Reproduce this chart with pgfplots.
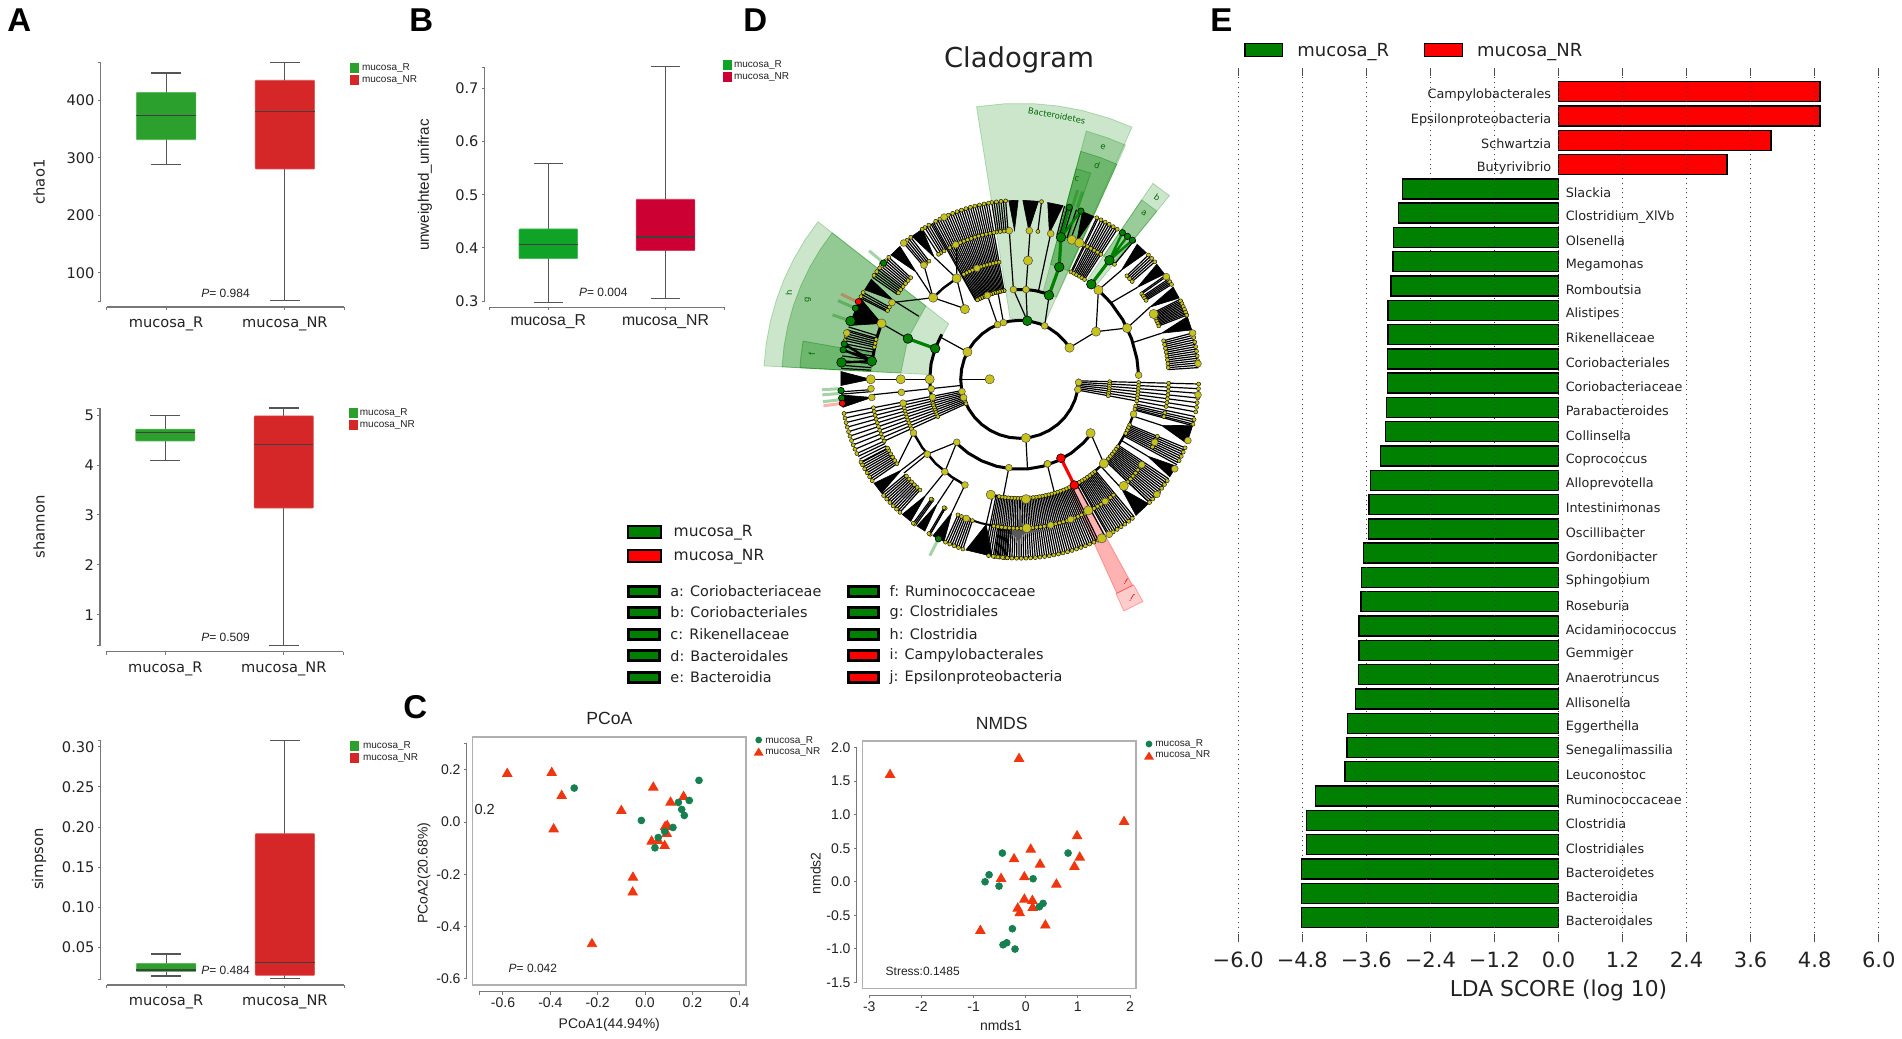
\documentclass[border=0pt]{standalone}
\usepackage{fontspec}
\usepackage{pgfplots}
\usepackage{pgfplotstable}
\pgfplotsset{compat=1.18}
\setmainfont{DejaVu Sans}
\newfontfamily\lib{Liberation Sans}
\newcommand\fs[1]{\fontsize{#1}{#1}\selectfont}

\definecolor{boxgreen}{HTML}{2CA02C}
\definecolor{boxred}{HTML}{D62728}
\definecolor{bgreen}{HTML}{0FA427}
\definecolor{bred}{HTML}{CC0033}
\definecolor{spine}{HTML}{777777}
\definecolor{wline}{HTML}{555555}
\definecolor{txt}{HTML}{222222}
\definecolor{frameg}{HTML}{B0B0B0}
\definecolor{ptg}{HTML}{168050}
\definecolor{ptr}{HTML}{F0360F}
\definecolor{leg}{HTML}{008000}
\definecolor{nody}{HTML}{C8C31C}

\tikzset{pxs/.style={x=.5pt,y=-.5pt}}
\pgfplotsset{
 panel/.style={scale only axis,anchor=north west,clip=false,
  axis lines*=left,axis line style={spine,-,line width=.6pt},
  tick align=outside,major tick length=1.4pt,tick style={spine,line width=.5pt},
  /pgf/number format/assume math mode=true,
  ticklabel style={font=\fs{7.3},text=txt,inner sep=1.5pt}},
 boxaxis/.style={panel,xmin=.5,xmax=2.5,xtick={.5,1,2,2.5},xticklabels={,mucosa\_R,mucosa\_NR,},
  axis x line shift=3pt,axis y line shift=3pt,
  xticklabel style={yshift=-2pt}},
 scat/.style={panel,axis x line shift=6.5pt,axis y line shift=6.3pt,
  ticklabel style={font=\lib\fs{7}}},
 rmark/.style={only marks,mark=*,mark size=1.7pt,mark options={fill=ptg,draw=none},color=ptg},
 nrmark/.style={only marks,mark=triangle*,mark size=2.7pt,mark options={fill=ptr,draw=none},color=ptr},
}
% one box of a box plot: position, low, q1, median, q3, high, colour
\newcommand\boxp[7]{%
 \pgfmathsetmacro\bl{#1-.25}\pgfmathsetmacro\br{#1+.25}%
 \pgfmathsetmacro\cl{#1-.125}\pgfmathsetmacro\cr{#1+.125}%
 \addplot[wline,line width=.55pt] coordinates {(#1,#2)(#1,#6)};
 \addplot[wline,line width=.55pt] coordinates {(\cl,#2)(\cr,#2)};
 \addplot[wline,line width=.55pt] coordinates {(\cl,#6)(\cr,#6)};
 \addplot[draw=#7!80!white,fill=#7,line width=.3pt,rounded corners=.4pt] coordinates {(\bl,#3)(\br,#3)(\br,#5)(\bl,#5)} --cycle;
 \addplot[black!75,line width=.6pt] coordinates {(\bl,#4)(\br,#4)};}
\newcommand\smallleg[5]{% x, y first swatch, text x, colours
 \fill[#4] (#1,#2) rectangle ++(9,10);
 \fill[#5] (#1,#2+12) rectangle ++(9,10);
 \node[anchor=west,inner sep=0,font=\lib\fs{5},text=txt] at (#3,#2+5) {mucosa\_R};
 \node[anchor=west,inner sep=0,font=\lib\fs{5},text=txt] at (#3,#2+17) {mucosa\_NR};}
\newcommand\pval[3]{\node[anchor=west,inner sep=0,font=\lib\fs{6},text=txt] at (#1,#2) {\textit{P}= #3};}
\newcommand\letter[3]{\node[anchor=west,inner sep=0,font=\lib\bfseries\fs{16.5}] at (#1,#2) {#3};}

% cladogram helpers, angles in degrees and radii in pixels
\tikzset{spoke/.style={black,line width=.6pt,mark=*,mark size=1pt,
  mark options={fill=nody,draw=black,line width=.2pt}},
  bare/.style={black,line width=.6pt}}
\newcommand\spokes[2]{\foreach \a in {#2}{\addplot[spoke] coordinates {(\a,#1)(\a,179)};}}
\newcommand\spokesm[2]{\foreach \a in {#2}{\addplot[spoke] coordinates {(\a,#1)(\a,149)(\a,179)};}}
\newcommand\spokesl[2]{\foreach \a in {#2}{\addplot[spoke] coordinates {(\a,#1)(\a,90)(\a,119)(\a,149)(\a,179)};}}
\newcommand\spokesx[2]{\foreach \a in {#2}{\addplot[bare] coordinates {(\a,#1)(\a,179)};}}
\newcommand\wg[3]{\addplot[fill=black,draw=black,line width=.3pt] coordinates {(#1,149)(#2,179)(#3,179)} --cycle;}

\pgfplotstableread{
v i name
4.90 34 Campylobacterales
4.90 33 Epsilonproteobacteria
3.98 32 Schwartzia
3.16 31 Butyrivibrio
}\lefse
\pgfplotstableread{
v i name
-2.92 30 Slackia
-3.00 29 Clostridium\_XlVb
-3.09 28 Olsenella
-3.10 27 Megamonas
-3.14 26 Romboutsia
-3.19 25 Alistipes
-3.19 24 Rikenellaceae
-3.20 23 Coriobacteriales
-3.20 22 Coriobacteriaceae
-3.22 21 Parabacteroides
-3.24 20 Collinsella
-3.33 19 Coprococcus
-3.52 18 Alloprevotella
-3.55 17 Intestinimonas
-3.56 16 Oscillibacter
-3.65 15 Gordonibacter
-3.69 14 Sphingobium
-3.70 13 Roseburia
-3.74 12 Acidaminococcus
-3.74 11 Gemmiger
-3.75 10 Anaerotruncus
-3.80 9 Allisonella
-3.95 8 Eggerthella
-3.96 7 Senegalimassilia
-4.00 6 Leuconostoc
-4.55 5 Ruminococcaceae
-4.72 4 Clostridia
-4.72 3 Clostridiales
-4.81 2 Bacteroidetes
-4.81 1 Bacteroidia
-4.81 0 Bacteroidales
}\lefsg

\begin{document}
\begin{tikzpicture}
\path[use as bounding box] (0,0) rectangle (951pt,-519.5pt);

\begin{scope}[pxs]
\letter{7}{20}{A}\letter{409}{20}{B}\letter{403}{707}{C}\letter{743}{20}{D}\letter{1210}{20}{E}
\node[rotate=90,font=\fs{7.4},text=txt] at (39,182) {chao1};
\pval{201}{293}{0.984}
\smallleg{350}{63}{361.7}{boxgreen}{boxred}
\node[rotate=90,font=\fs{7.4},text=txt] at (39,527) {shannon};
\pval{201}{637.3}{0.509}
\smallleg{349}{408}{359.5}{boxgreen}{boxred}
\node[rotate=90,font=\fs{7.4},text=txt] at (39,859) {simpson};
\pval{201}{970.7}{0.484}
\smallleg{350}{741}{362.7}{boxgreen}{boxred}
\node[rotate=90,font=\lib\fs{7.6},text=txt] at (425,185) {unweighted\_unifrac};
\pval{578.7}{292.7}{0.004}
\smallleg{723.3}{60}{733.7}{bgreen}{bred}
\draw[frameg,line width=.8pt] (472.3,736.7) rectangle (745.7,984.7);
\draw[frameg,line width=.8pt] (862.3,741) rectangle (1136,988.3);
\end{scope}

% A: chao1
\begin{axis}[boxaxis,at={(106.7*.5pt,-62.7*.5pt)},width=118.8pt,height=119.15pt,
 ymin=50.8,ymax=465.4,ytick={50.8,100,200,300,400,465.4},yticklabels={,100,200,300,400,}]
\boxp{1}{288}{331.4}{373.2}{413.9}{447.5}{boxgreen}
\boxp{2}{51}{280.5}{380.2}{434.8}{465.4}{boxred}
\end{axis}

% A: shannon
\begin{axis}[boxaxis,at={(106*.5pt,-408.3*.5pt)},width=118.5pt,height=118.7pt,
 ymin=.378,ymax=5.14,ytick={.378,1,2,3,4,5,5.14},yticklabels={,1,2,3,4,5,}]
\boxp{1}{4.10}{4.485}{4.65}{4.72}{4.987}{boxgreen}
\boxp{2}{.378}{3.14}{4.418}{4.987}{5.147}{boxred}
\end{axis}

% A: simpson
\begin{axis}[boxaxis,at={(106.7*.5pt,-740.7*.5pt)},width=118.8pt,height=119.15pt,
 ymin=.011,ymax=.3075,ytick={.011,.05,.1,.15,.2,.25,.3,.3075},
 yticklabels={,0.05,0.10,0.15,0.20,0.25,0.30,}]
\boxp{1}{.0148}{.0201}{.0222}{.0305}{.0421}{boxgreen}
\boxp{2}{.0114}{.0156}{.0313}{.1918}{.3075}{boxred}
\end{axis}

% B
\begin{axis}[boxaxis,at={(489.7*.5pt,-67.3*.5pt)},width=117.2pt,height=117.2pt,
 ymin=.2987,ymax=.74,ytick={.2987,.3,.4,.5,.6,.7,.74},yticklabels={,0.3,0.4,0.5,0.6,0.7,},
 axis x line shift=2.8pt,axis y line shift=2.5pt,
 xticklabel style={font=\lib\fs{7.9},yshift=1.5pt}]
\boxp{1}{.298}{.3797}{.4067}{.4356}{.5587}{bgreen}
\boxp{2}{.305}{.3948}{.4206}{.4915}{.7408}{bred}
\end{axis}

% C: PCoA
\begin{axis}[scat,at={(479.3*.5pt,-743.3*.5pt)},width=130.2pt,height=117.7pt,
 xmin=-.7,xmax=.4,ymin=-.6,ymax=.302,
 xtick={-.7,-.6,-.4,-.2,0,.2,.4},xticklabels={,-0.6,-0.4,-0.2,0.0,0.2,0.4},
 ytick={-.6,-.4,-.2,0,.2,.302},yticklabels={-0.6,-0.4,-0.2,0.0,0.2,}]
\addplot[nrmark] coordinates {(-.582,.1855)(-.394,.189)(-.352,.101)(-.386,-.027)(-.1,.0435)(.035,.133)
 (.108,.0755)(.163,.097)(.085,-.018)(.094,-.014)(.092,-.045)(.028,-.074)(.056,-.072)(.083,-.091)
 (-.051,-.212)(-.052,-.269)(-.224,-.467)};
\addplot[rmark] coordinates {(-.299,.1305)(.228,.16)(.187,.083)(.141,.0755)(.155,.0486)(.166,.0256)
 (-.0155,.0064)(.118,-.0205)(.083,-.0358)(.056,-.0589)(.042,-.0985)};
\end{axis}

% C: NMDS
\begin{axis}[scat,at={(869.3*.5pt,-747.7*.5pt)},width=130.35pt,height=117.3pt,
 xmin=-3,xmax=2,ymin=-1.5,ymax=2,
 xtick={-3,-2,-1,0,1,2},xticklabels={-3,-2,-1,0,1,2},
 ytick={-1.5,-1,-.5,0,.5,1,1.5,2},yticklabels={-1.5,-1.0,-0.5,0.0,0.5,1.0,1.5,2.0}]
\addplot[nrmark] coordinates {(-2.602,1.596)(-.128,1.835)(1.886,.895)(.985,.681)(.096,.482)(1.036,.363)
 (.934,.224)(.275,.259)(-.224,.338)(-.473,.045)(-.026,.07)(.588,-.04)(-.026,-.264)(.128,-.283)
 (.134,-.388)(-.153,-.398)(-.115,-.467)(.377,-.651)(-.87,-.731)};
\addplot[rmark] coordinates {(-.448,.428)(.812,.428)(-.703,.104)(-.78,0)(-.512,-.065)(.141,.045)
 (.332,-.323)(.262,-.373)(-.256,-.701)(-.364,-.91)(-.435,-.94)(-.205,-1.004)};
\end{axis}

\begin{scope}[pxs]
\node[font=\lib\fs{8.8},text=txt] at (609.3,718.3) {PCoA};
\node[font=\lib\fs{7},text=txt] at (609.3,1025) {PCoA1(44.94\%)};
\node[rotate=90,font=\lib\fs{7},text=txt] at (424,873.3) {PCoA2(20.68\%)};
\node[font=\lib\fs{7.3},text=txt] at (484.7,809.3) {0.2};
\pval{508.3}{968.7}{0.042}
\fill[ptg] (758.7,740) circle[radius=1.7pt];
\fill[ptr] (753.8,755.5) -- (763.6,755.5) -- (758.7,747.5) -- cycle;
\node[anchor=west,inner sep=0,font=\lib\fs{5},text=txt] at (765,741) {mucosa\_R};
\node[anchor=west,inner sep=0,font=\lib\fs{5},text=txt] at (765,752) {mucosa\_NR};
\node[font=\lib\fs{8.8},text=txt] at (1001.7,723.3) {NMDS};
\node[font=\lib\fs{7},text=txt] at (1001,1025.3) {nmds1};
\node[rotate=90,font=\lib\fs{7},text=txt] at (815.7,873.3) {nmds2};
\node[anchor=west,inner sep=0,font=\lib\fs{6},text=txt] at (885.3,971.7) {Stress:0.1485};
\fill[ptg] (1149,744) circle[radius=1.7pt];
\fill[ptr] (1144.1,759.5) -- (1153.9,759.5) -- (1149,751.5) -- cycle;
\node[anchor=west,inner sep=0,font=\lib\fs{5},text=txt] at (1155,744) {mucosa\_R};
\node[anchor=west,inner sep=0,font=\lib\fs{5},text=txt] at (1155,755.5) {mucosa\_NR};
\node[font=\fs{13.7},text=txt] at (1019,59.5) {Cladogram};
\end{scope}

% D: cladogram, polar data around the centre
\begin{axis}[hide axis,scale only axis,anchor=center,at={(1019.7*.5pt,-379.3*.5pt)},width=300pt,height=300pt,
 xmin=-300,xmax=300,ymin=-300,ymax=300,clip=false,data cs=polar]
% shaded clades
\addplot[fill=leg,fill opacity=.2,draw=leg,draw opacity=.25] coordinates {(99,62)(99,276)(93,276)(87,276)(82,276)(77,276)(71,276)(66,276)(66,62)(82,59)} --cycle;
\addplot[fill=leg,fill opacity=.22,draw=leg,draw opacity=.25] coordinates {(75,90)(75,257)(70,257)(65.7,257)(65.7,90)} --cycle;
\addplot[fill=leg,fill opacity=.3,draw=leg,draw opacity=.4] coordinates {(75,119)(75,236)(70,236)(65.7,236)(65.7,119)} --cycle;
\addplot[fill=leg,fill opacity=.2,draw=leg,draw opacity=.4] coordinates {(75,149)(75,218)(71,218)(71,149)} --cycle;
\addplot[fill=leg,fill opacity=.2,draw=leg,draw opacity=.25] coordinates {(50.8,119)(50.8,237)(55.8,237)(55.8,119)} --cycle;
\addplot[fill=leg,fill opacity=.25,draw=leg,draw opacity=.3] coordinates {(50.8,149)(50.8,217)(55.8,217)(55.8,149)} --cycle;
\addplot[fill=leg,fill opacity=.2,draw=leg,draw opacity=.25] coordinates {(142,90)(142,256)(147,256)(152,256)(157,256)(162,256)(167,256)(172,256)(177,256)(177,90)(160,90)} --cycle;
\addplot[fill=leg,fill opacity=.28,draw=leg,draw opacity=.3] coordinates {(142,119)(142,238)(147,238)(152,238)(157,238)(162,238)(167,238)(172,238)(177,238)(177,119)(160,119)} --cycle;
\addplot[fill=leg,fill opacity=.25,draw=leg,draw opacity=.4] coordinates {(170,149)(170,220)(174,220)(177,220)(177,149)} --cycle;
\addplot[fill=red,fill opacity=.3,draw=red,draw opacity=.3] coordinates {(-61.3,119)(-61.3,235)(-65.6,235)(-65.6,119)} --cycle;
\addplot[fill=red,fill opacity=.2,draw=red,draw opacity=.3] coordinates {(-61,235)(-61,254)(-65.8,254)(-65.8,235)} --cycle;
% short stubs outside the ring
\foreach \a in {139.5,183,184.5,186.5,243,156.6,161,71.5,73}{\addplot[leg,opacity=.35,line width=1.5pt] coordinates {(\a,181)(\a,198)};}
\foreach \a in {154.5,187.7}{\addplot[red!70!brown,opacity=.35,line width=1.5pt] coordinates {(\a,181)(\a,198)};}
% leaves
\spokesx{149}{95.25,96.75,98.25,119.75,121.25,128.25,129.75,137.75,139.25,140.75,142.25,143.75,145.25,151.75,153,
 163,164,165.25,166.75,168.5,169.5,171,172.5,174,175.5,176.5,184.75,43.25,41.75,35.5,33.5,32.5,26.5,25.5,24.5,23.5,22.5,21.5,
 14.25,12.75,11.25,9.75,8.25,6.75,5.25,3.75,262.75,264.25,265.75,266.75,250.75,249.25,247.75,246.25,240,234.5,
 227.25,225.75,224.25,222.75,221.25,219.75,213.75,212.25,210.75,209.25,207.75,206.5,205.5,70,71.5,73,74.5,75.5}
\spokesx{90}{100.75,102.25,103.75,105.25,106.75,108.25,109.75,111.25,112.75,114.25,115.75,117.25,118.75,119.25}
\spokesx{119}{64,62.25,60.75,59.25,57.75,-12,-13.75,-15,-23.25,-24.75,-26.25,-27.75,-28.5,-33.75,-35.25,-36.75,-38.25,-39.75,
 -41.25,-42.75,-43.5,-50.25,-51.75,-53.25,-54.75,-56.25,-57.75,-59.25,-60.5,-61.5,-64.75,-66.25,-67.75,-69.25,-70.75,-72.25,
 -73.75,-75.25,-76.75,-78.25,-79.75,-81.25,-82.75,-84.25,-85.75,-87.25,-88.75,-90.25,-91.75,-93.25,-94.75,-96.25,-97.75,
 -99.25,-100.75,-101.5}
\spokes{149}{94.5,96,97.5,99,83,120.5,122,123,127.5,129,130.4,137,138.5,140,141.5,143,144.5,151,152.5,
 164.5,166,167.5,184,50.5,44,42.5,41,35,34,33,32,26,25,24,23,22,21,15,13.5,12,10.5,9,7.5,6,4.5,
 262,263.5,265,266,251.5,250,248.5,247,245.5,240,239.5,234,233.5,228,226.5,225,223.5,222,220.5,
 214.5,213,211.5,210,208.5,207.5}
\spokesl{90}{100,101.5,103,104.5,106,107.5,109,110.5,112,113.5,115,116.5,118}
\spokesm{119}{64.5,63,61.5,60,58.5,57,-13,-14.5,-22.5,-24,-25.5,-27,-34.5,-36,-37.5,-39,-40.5,-42,-43.5,
 -51,-52.5,-54,-55.5,-57,-58.5,-60,-64,-65.5,-67,-68.5,-70,-71.5,-73,-74.5,-76,-77.5,-79,-80.5,
 -82,-83.5,-85,-86.5,-88,-89.5,-91,-92.5,-94,-95.5,-97,-98.5,-100}
\spokesl{59}{-1.5,-3,-4.5,-6,-7.5,-9,-10.5,191,192.5,194,195.5,197,198.5,200,201.5,203,204.5}
\wg{92}{90.5}{93.5}\wg{86.5}{84}{89}\wg{78.5}{76}{81}\wg{67.5}{65.5}{69.5}
\wg{125}{123}{127}\wg{134}{132}{136}\wg{148}{146}{150}\wg{158}{153}{162.5}
\wg{180}{177.5}{182}\wg{187}{185}{189}\wg{47}{45}{49}\wg{38}{36}{40}\wg{29}{27}{31}\wg{18}{16}{20.5}
\wg{-18}{-21}{-15}\wg{-31}{-33}{-29}\wg{-47}{-49.5}{-44}\wg{257}{252.5}{261}\wg{243}{241}{245}
\wg{236.5}{235}{238}\wg{231}{229}{232.5}\wg{217.5}{215.5}{219.5}
% thin branches
\foreach \a/\b/\c/\d in {180/59/180/30,152.4/59/152/90,32.4/59/32/90,32/90/48.6/119,32/90/25.5/119,
 276/59/275/89,263/89/262/119,225/89/219/119,225/89/231/119,322.8/89/315/119,288/89/287/119,
 112/59/111/90,106/59/104/90,82.6/59/86/90,82.6/59/94/90,65/59/70.8/90,128/90/122/119,128/90/136.7/119,
 86/90/86/149,94/90/94/149,78/90/78/149,180/90/180/149,160/119/158/149,186/59/186/149,
 219/119/219/149,231/119/231/149,122/119/115/149,122/119/125/149,136.7/119/130/149,136.7/119/134/149,136.7/119/149/149,
 48.6/119/47/149,40/119/38/149,25.5/119/29/149,18/119/18/149,-18/119/-18/149,-31/119/-31/149,-47/119/-47/149,
 257/119/257/149,242.6/119/243/149,236.5/119/236.5/149,217.5/119/217.5/149,206.8/119/215/149,148/119/148/149}{
 \addplot[black,line width=.6pt] coordinates {(\a,\b)(\c,\d)};}
% thick rings
\addplot[black,line width=1.5pt] coordinates {(32,59)(40,59)(50,59)(60,59)(70,59)(80,59)(90,59)(100,59)(110,59)(120,59)(130,59)(140,59)(150,59)(160,59)(170,59)(180,59)(190,59)(200,59)(210,59)(220,59)(230,59)(240,59)(250,59)(260,59)(270,59)(280,59)(290,59)(300,59)(310,59)(320,59)(330,59)(340,59)(350,59)};
\addplot[black,line width=1.5pt] coordinates {(225,90)(235,90)(245,90)(255,90)(265,90)(275,90)(285,90)(295,90)(305,90)(315,90)(323,90)};
\addplot[black,line width=1.5pt] coordinates {(150,90)(160,90)(170,90)(180,90)(190,90)(203,90)};
\addplot[black,line width=1.5pt] coordinates {(70.8,90)(80,90)(86,90)(94,90)};
\addplot[black,line width=1.5pt] coordinates {(48.6,119)(40,119)(30,119)(20,119)(10,119)(2,119)};
\addplot[black,line width=1.2pt] coordinates {(-17,119)(-25,119)(-35,119)(-45,119)(-55,119)(-62,119)};
\addplot[black,line width=1.2pt] coordinates {(255.6,119)(262,119)(270,119)(278,119)(286,119)};
\addplot[black,line width=1.2pt] coordinates {(206.8,119)(215,119)(225,119)(235,119)(242.6,119)};
\addplot[black,line width=1.2pt] coordinates {(122,119)(130,119)(136.7,119)};
\addplot[black,line width=1.5pt] coordinates {(158,149)(165,149)(175,149)};
\addplot[black,line width=1pt] coordinates {(249,149)(255,149)(262,149)};
% marked clades
\addplot[leg,line width=1.6pt] coordinates {(70.8,89)(70.6,119)(73.8,148)};
\addplot[leg,line width=1.2pt] coordinates {(73.9,179)(73.8,148)(70,179)};
\addplot[leg,line width=1.6pt] coordinates {(53,119)(53,149)};
\addplot[leg,line width=1.2pt] coordinates {(55,179)(53,149)(53,179)(53,149)(51,179)};
\addplot[leg,line width=1.6pt] coordinates {(160,90)(160,119)};
\addplot[black,line width=1.2pt] coordinates {(173,149)(174.6,179)(173,149)(168.6,179)(173,149)(170.5,179)};
\addplot[red,line width=1.6pt] coordinates {(297.6,89)(297.3,119)};
% nodes
\addplot[only marks,mark=*,mark size=2.3pt,mark options={fill=nody,draw=black!70,line width=.25pt}] coordinates {
 (152.4,59)(180,30)(276,59)(32.4,59)(32,90)(25.5,119)(48.6,119)(122,119)(136.7,119)(128,89)(158,149)
 (322.8,89)(180,149)(180,119)(180,90)(26,149)(-62.4,148)(-62.7,179)(-45,119)(-45.7,149)(-87,120)(-87.3,149)
 (255.9,119)(69.5,149)(66.4,149)(86,119)};
\addplot[only marks,mark=*,mark size=1.7pt,mark options={fill=nody,draw=black!70,line width=.25pt}] coordinates {
 (263,89)(225,89)(219,119)(231,119)(183.6,149)(187,149)(186.3,119)(186.2,89)(191.6,89)(191.6,119)(249,149)
 (86.3,149)(86,90)(94,90)(115.4,149)(111,119)(111,90)(130.4,179)(130,149)(115,179)(149,149)(112,59)(106,59)(65,59)
 (192,59)(198,59)(-10,59)(-3,59)(288,89)(-71.7,89)(242.6,119)(206.8,119)(-17,119)(2,119)(94,149)(78,149)(-25,149)
 (-35,149)(-55,149)(140,179)(165,179)(35,179)(15,179)(5,179)(-60,179)(-5,179)(-40,179)(-30,179)(-20,179)(-70,149)(-78,149)};
\addplot[only marks,mark=*,mark size=2.4pt,mark options={fill=leg,draw=black,line width=.3pt}] coordinates {
 (82.6,59)(70.8,89)(70.6,119)(73.8,148)(53,119)(53,149)(160,90)(160,119)(173,149)(174.6,179)(161,179)};
\addplot[only marks,mark=*,mark size=1.6pt,mark options={fill=leg,draw=black,line width=.3pt}] coordinates {
 (73.9,179)(70,179)(55,179)(53,179)(51,179)(156.6,179)(168.6,179)(170.5,179)(139.5,179)(183.6,179)(186,179)(243,179)};
\addplot[only marks,mark=*,mark size=2.2pt,mark options={fill=red,draw=black,line width=.3pt}] coordinates {(297.6,89)(297.3,119)};
\addplot[only marks,mark=*,mark size=1.6pt,mark options={fill=red,draw=black,line width=.3pt}] coordinates {(154.3,179)(187.7,179)};
\end{axis}

\begin{scope}[pxs,every node/.style={font=\fs{4.2},text=leg!80!black,inner sep=0}]
\node[rotate=-11] at (1056.7,115.7) {Bacteroidetes};
\node[rotate=-18] at (1103,147) {e};
\node[rotate=-18] at (1097,165) {d};
\node[rotate=-15] at (1077,179) {c};
\node[rotate=-35] at (1157,197) {b};
\node[rotate=-35] at (1144,213) {a};
\node[rotate=90] at (789,293) {h};
\node[rotate=90] at (808,300) {g};
\node[rotate=90] at (812,354) {f};
\node[rotate=150,text=red!80!black] at (1126,582) {i};
\node[rotate=150,text=red!80!black] at (1132,598) {j};
\end{scope}
% D legend
\begin{scope}[pxs,every node/.style={anchor=west,inner sep=0,text=txt}]
\draw[black,fill=leg,line width=.9pt] (628.3,525.7) rectangle (661,537.7);
\draw[black,fill=red,line width=.9pt] (628.3,549.7) rectangle (661,561.7);
\node[font=\fs{7.75}] at (673.3,532.5) {mucosa\_R};
\node[font=\fs{7.75}] at (673.3,556.5) {mucosa\_NR};
\foreach \yy/\t in {591/a: Coriobacteriaceae,612.3/b: Coriobacteriales,634.3/c: Rikenellaceae,655.7/d: Bacteroidales,677.3/e: Bacteroidia}{
 \draw[black,fill=leg,line width=1.5pt] (628.7,\yy-5) rectangle (659,\yy+5);
 \node[font=\fs{7.2}] at (670,\yy) {\t};}
\foreach \yy/\t/\c in {591/f: Ruminococcaceae/leg,612.3/g: Clostridiales/leg,634.3/h: Clostridia/leg,655.7/i: Campylobacterales/red,677.3/j: Epsilonproteobacteria/red}{
 \draw[black,fill=\c,line width=1.5pt] (848.3,\yy-5) rectangle (878.3,\yy+5);
 \node[font=\fs{7.2}] at (889.3,\yy) {\t};}
\end{scope}

% E: LDA scores
\begin{axis}[scale only axis,anchor=north west,at={(1238.2*.5pt,-68*.5pt)},width=320.25pt,height=437pt,clip=false,
 xmin=-6,xmax=6,ymin=-1.009,ymax=34.976,ytick=\empty,
 axis line style={draw=none},axis on top,
 xtick={-6,-4.8,-3.6,-2.4,-1.2,0,1.2,2.4,3.6,4.8,6},
 xticklabels={−6.0,−4.8,−3.6,−2.4,−1.2,0.0,1.2,2.4,3.6,4.8,6.0},
 xticklabel pos=lower,tick pos=both,tick align=inside,major tick length=4pt,
 tick style={black!70,line width=.5pt},
 xmajorgrids,grid style={black!75,line width=.4pt,dotted},
 ticklabel style={font=\fs{10.5},text=txt,yshift=-1.2pt},
 xlabel={LDA SCORE (log 10)},xlabel style={font=\fs{10.9},text=txt,yshift=.4pt},
 every node near coord/.style={font=\fs{6.4},text=txt,inner sep=0pt,yshift=-1.8pt}]
\addplot[xbar,bar width=10pt,bar shift=0pt,fill=red,draw=black,line width=.7pt] table[x=v,y=i] {\lefse};
\addplot[xbar,bar width=10pt,bar shift=0pt,fill=leg,draw=black,line width=.7pt] table[x=v,y=i] {\lefsg};
\addplot[draw=none,mark=none,nodes near coords,point meta=explicit symbolic,
 every node near coord/.append style={anchor=east}] table[x expr=-.13,y=i,meta=name] {\lefse};
\addplot[draw=none,mark=none,nodes near coords,point meta=explicit symbolic,
 every node near coord/.append style={anchor=west}] table[x expr=.13,y=i,meta=name] {\lefsg};
\end{axis}
\begin{scope}[pxs]
\draw[black,fill=leg,line width=.7pt] (1244.8,43.3) rectangle (1282.4,56.7);
\draw[black,fill=red,line width=.7pt] (1424.7,43.3) rectangle (1462.4,56.7);
\node[anchor=west,inner sep=0,font=\fs{9},text=txt] at (1297,52) {mucosa\_R};
\node[anchor=west,inner sep=0,font=\fs{9},text=txt] at (1476.7,52) {mucosa\_NR};
\end{scope}
\end{tikzpicture}
\end{document}
